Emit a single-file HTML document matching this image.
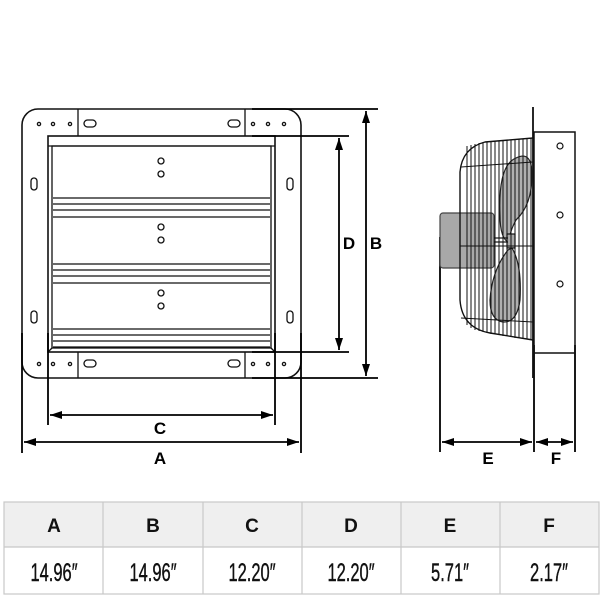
<!DOCTYPE html>
<html><head><meta charset="utf-8"><style>
body{margin:0;background:#fff;width:600px;height:600px;overflow:hidden}
svg{display:block}
text{font-family:"Liberation Sans",sans-serif}
</style></head><body>
<svg width="600" height="600" viewBox="0 0 600 600" xmlns="http://www.w3.org/2000/svg">
<defs>
<marker id="ar" markerWidth="12" markerHeight="8" refX="12" refY="4" orient="auto" markerUnits="userSpaceOnUse"><path d="M0,0 L12,4 L0,8 Z" fill="#000"/></marker>
<marker id="al" markerWidth="12" markerHeight="8" refX="0" refY="4" orient="auto" markerUnits="userSpaceOnUse"><path d="M12,0 L0,4 L12,8 Z" fill="#000"/></marker>
</defs>
<g fill="none" stroke="#111" stroke-width="1.3">
<rect x="22" y="109" width="279" height="269" rx="16" stroke-width="1.6"/>
<rect x="48" y="136" width="227" height="216" stroke-width="1.6"/>
<rect x="52" y="146" width="219" height="202"/>
<line x1="48" y1="146" x2="275" y2="146"/>
<line x1="78" y1="109" x2="78" y2="136"/><line x1="245" y1="109" x2="245" y2="136"/>
<line x1="78" y1="352" x2="78" y2="378"/><line x1="245" y1="352" x2="245" y2="378"/>
<line x1="48" y1="352" x2="52" y2="348"/><line x1="275" y1="352" x2="271" y2="348"/>
<g>
<line x1="53" y1="198" x2="270" y2="198"/><line x1="53" y1="204" x2="270" y2="204"/><line x1="53" y1="210" x2="270" y2="210"/><line x1="53" y1="217" x2="270" y2="217"/>
<line x1="53" y1="264" x2="270" y2="264"/><line x1="53" y1="270" x2="270" y2="270"/><line x1="53" y1="276" x2="270" y2="276"/><line x1="53" y1="283" x2="270" y2="283"/>
<line x1="53" y1="329" x2="270" y2="329"/><line x1="53" y1="335" x2="270" y2="335"/><line x1="53" y1="341" x2="270" y2="341"/><line x1="53" y1="347" x2="270" y2="347"/>
</g>
<circle cx="161" cy="161" r="3"/><circle cx="161" cy="174" r="3"/>
<circle cx="161" cy="227" r="3"/><circle cx="161" cy="240" r="3"/>
<circle cx="161" cy="293" r="3"/><circle cx="161" cy="306" r="3"/>
<circle cx="39" cy="124" r="1.6"/><circle cx="53" cy="124" r="1.6"/><circle cx="70" cy="124" r="1.6"/>
<circle cx="253" cy="124" r="1.6"/><circle cx="268" cy="124" r="1.6"/><circle cx="284" cy="124" r="1.6"/>
<circle cx="39" cy="364" r="1.6"/><circle cx="53" cy="364" r="1.6"/><circle cx="70" cy="364" r="1.6"/>
<circle cx="253" cy="364" r="1.6"/><circle cx="268" cy="364" r="1.6"/><circle cx="284" cy="364" r="1.6"/>
<rect x="84" y="120" width="12" height="7" rx="3.5"/><rect x="228" y="120" width="12" height="7" rx="3.5"/>
<rect x="84" y="360" width="12" height="7" rx="3.5"/><rect x="228" y="360" width="12" height="7" rx="3.5"/>
<rect x="31" y="178" width="6" height="12" rx="3"/><rect x="287" y="178" width="6" height="12" rx="3"/>
<rect x="31" y="311" width="6" height="12" rx="3"/><rect x="287" y="311" width="6" height="12" rx="3"/>
</g>
<g stroke="#000" stroke-width="1.8" fill="none">
<line x1="252" y1="109" x2="378" y2="109"/><line x1="252" y1="378" x2="378" y2="378"/>
<line x1="252" y1="136" x2="349" y2="136"/><line x1="252" y1="352" x2="349" y2="352"/>
<line x1="366" y1="111" x2="366" y2="376" marker-start="url(#al)" marker-end="url(#ar)"/>
<line x1="339" y1="138" x2="339" y2="350" marker-start="url(#al)" marker-end="url(#ar)"/>
<line x1="48" y1="333" x2="48" y2="425"/><line x1="275" y1="333" x2="275" y2="425"/>
<line x1="22" y1="333" x2="22" y2="453"/><line x1="301" y1="333" x2="301" y2="453"/>
<line x1="50" y1="415" x2="273" y2="415" marker-start="url(#al)" marker-end="url(#ar)"/>
<line x1="24" y1="442" x2="299" y2="442" marker-start="url(#al)" marker-end="url(#ar)"/>
<line x1="440" y1="237" x2="440" y2="452"/><line x1="534" y1="345" x2="534" y2="452"/><line x1="575" y1="345" x2="575" y2="452"/>
<line x1="442" y1="442" x2="532" y2="442" marker-start="url(#al)" marker-end="url(#ar)"/>
<line x1="536" y1="442" x2="573" y2="442" marker-start="url(#al)" marker-end="url(#ar)"/>
</g>
<g font-weight="bold" font-size="17" text-anchor="middle" fill="#000">
<text x="160" y="434">C</text><text x="160" y="464">A</text>
<text x="349" y="249">D</text><text x="376" y="249">B</text>
<text x="488" y="464">E</text><text x="556" y="464">F</text>
</g>
<g fill="none" stroke="#111" stroke-width="1.2">
<line x1="533" y1="107" x2="533" y2="378" stroke-width="1.8"/>
<rect x="534" y="132" width="41" height="221" stroke-width="1.5"/>
<circle cx="560" cy="146" r="3"/><circle cx="560" cy="215" r="3"/><circle cx="560" cy="284" r="3"/>
<rect x="440" y="213" width="54" height="55" rx="3" fill="#a8a8a8" stroke="#444"/>
<path d="M533,138 L485,142 Q462,148 460,172 L460,300 Q462,328 490,333 L533,340" stroke-width="1.4"/>
<path d="M516,158 Q532,150 532,175 Q532,205 516,220 Q508,235 510,243 Q500,240 500,215 Q498,165 516,158 Z" fill="#b0b0b0" stroke="#222"/>
<path d="M512,248 Q522,265 520,300 Q517,323 503,322 Q490,320 490,300 Q492,270 508,250 Z" fill="#b0b0b0" stroke="#222"/>
<rect x="507" y="234" width="8" height="14" fill="#a8a8a8"/>
<line x1="494" y1="238" x2="508" y2="238"/><line x1="494" y1="242" x2="508" y2="242"/>
<g stroke-width="1">
<line x1="467" y1="146" x2="467" y2="325"/><line x1="471" y1="145" x2="471" y2="328"/><line x1="475" y1="144" x2="475" y2="330"/>
<line x1="479" y1="143" x2="479" y2="331"/><line x1="483" y1="142" x2="483" y2="332"/><line x1="487" y1="142" x2="487" y2="333"/>
<line x1="491" y1="141" x2="491" y2="334"/><line x1="495" y1="141" x2="495" y2="334"/><line x1="499" y1="141" x2="499" y2="335"/>
<line x1="503" y1="140" x2="503" y2="336"/><line x1="507" y1="140" x2="507" y2="336"/><line x1="511" y1="140" x2="511" y2="337"/>
<line x1="515" y1="139" x2="515" y2="338"/><line x1="519" y1="139" x2="519" y2="338"/><line x1="523" y1="139" x2="523" y2="339"/>
<line x1="527" y1="138" x2="527" y2="339"/><line x1="531" y1="138" x2="531" y2="340"/>
<line x1="461" y1="167" x2="533" y2="162"/><line x1="460" y1="246" x2="533" y2="246"/><line x1="461" y1="318" x2="533" y2="322"/>
</g>
</g>
<rect x="4" y="502" width="595" height="45" fill="#efefef"/>
<g stroke="#c8c8c8" stroke-width="1.2" fill="none">
<rect x="4" y="502" width="595" height="92"/>
<line x1="4" y1="547" x2="599" y2="547"/>
<line x1="103" y1="502" x2="103" y2="594"/><line x1="203" y1="502" x2="203" y2="594"/><line x1="302" y1="502" x2="302" y2="594"/>
<line x1="401" y1="502" x2="401" y2="594"/><line x1="500" y1="502" x2="500" y2="594"/>
</g>
<g font-weight="bold" font-size="19" text-anchor="middle" fill="#111">
<text x="54" y="532">A</text><text x="153" y="532">B</text><text x="252" y="532">C</text><text x="351" y="532">D</text><text x="450" y="532">E</text><text x="549" y="532">F</text>
</g>
<g font-size="25" text-anchor="middle" fill="#111" stroke="#111" stroke-width="0.4">
<text transform="translate(54,581) scale(0.66,1)">14.96″</text>
<text transform="translate(153,581) scale(0.66,1)">14.96″</text>
<text transform="translate(252,581) scale(0.66,1)">12.20″</text>
<text transform="translate(351,581) scale(0.66,1)">12.20″</text>
<text transform="translate(450,581) scale(0.66,1)">5.71″</text>
<text transform="translate(549,581) scale(0.66,1)">2.17″</text>
</g>
</svg>
</body></html>
